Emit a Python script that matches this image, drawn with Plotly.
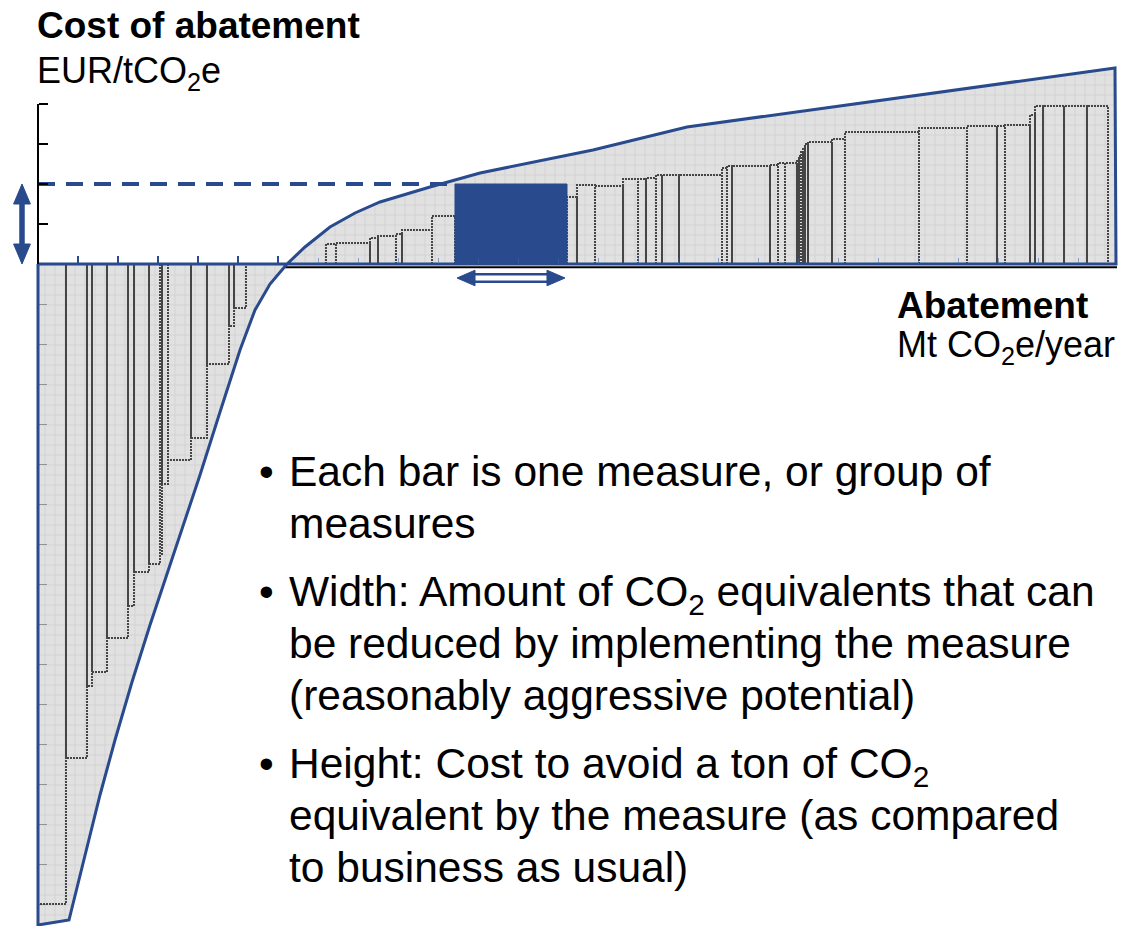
import plotly.graph_objects as go

BLUE = "#294b8d"
FONT = "Liberation Sans, Arial, Helvetica, sans-serif"

# Abatement measures, sorted by cost (width: Mt CO2e/year, height: EUR/tCO2e)
NEG_WIDTH = [7.0, 5.25, 1.25, 3.75, 5.25, 1.5, 3.75, 2.75, 0.5, 1.5, 5.75, 4.0, 5.5, 1.25, 3.0]
NEG_COST = [-320, -247, -211, -204, -187, -171, -154, -150, -145, -110, -98, -87, -50, -31, -22]
NEUTRAL_WIDTH = [20.0]
NEUTRAL_COST = [0]
POS_WIDTH = [2.5, 8.5, 2.0, 4.5, 1.5, 7.5, 5.75, 28.0, 2.5, 4.5, 7.0, 3.75, 2.0, 2.5,
             1.5, 4.25, 10.75, 1.25, 1.25, 9.5, 2.0, 1.75, 3.0, 0.5, 0.5, 0.5, 0.5,
             0.75, 6.0, 3.25, 18.5, 12.0, 7.5, 2.0, 6.25, 1.25, 2.0, 5.25, 5.75, 5.25]
POS_COST = [10, 10.5, 13, 14, 15, 17, 24, 40, 33.5, 39.5, 39, 42.5, 42.5, 43,
            44.5, 44.5, 44.5, 48, 49, 49, 49.5, 50.5, 50.5, 52, 54, 56, 58,
            60, 61, 62.5, 66, 68, 69, 69, 69.5, 74.5, 79, 79, 79, 79]
HIGHLIGHT_POS = 7  # example measure among the positive-cost bars

# Envelope of the cost curve (Mt CO2e/year, EUR/tCO2e)
ENVELOPE_X = [0, 0, 7.75, 11.75, 15.5, 19.25, 23.5, 28, 31.75, 35.5, 40.5, 45.5, 50.5,
              54.25, 58, 62.25, 66.75, 73, 79.25, 85.5, 98, 110.5, 125.5, 138.75,
              162.25, 269.25, 269.5, 0]
ENVELOPE_Y = [0, -330.5, -328, -295.5, -265.5, -238, -209, -180.5, -158, -135.5,
              -105.5, -74, -43, -23, -10, 0, 8.5, 18.5, 25.5, 31, 38.5, 45.5, 51.5,
              57, 68.5, 98, 0, 0]

X_TICKS = [10, 20, 30, 40, 50, 60]
X_MINOR = list(range(70, 270, 10))
Y_TICKS = [20, 40, 60, 80]
Y_MINOR = list(range(-20, -330, -20))

WIDTHS = NEG_WIDTH + NEUTRAL_WIDTH + POS_WIDTH
COSTS = NEG_COST + NEUTRAL_COST + POS_COST
HIGHLIGHT = len(NEG_WIDTH) + len(NEUTRAL_WIDTH) + HIGHLIGHT_POS

X_RANGE = [-9.5, 273.25]
Y_RANGE = [-331, 132]

fig = go.Figure()

# shaded area under the envelope
fig.add_trace(go.Scatter(
    x=ENVELOPE_X, y=ENVELOPE_Y, mode="lines", fill="toself",
    line=dict(width=0, color=BLUE),
    fillpattern=dict(shape="+", size=10, solidity=0.14,
                     fgcolor="#bdbdbd", bgcolor="#e1e1e1"),
    hoverinfo="skip"))

# dotted outline of each measure
bx, by = [], []
edges = []
left = 0.0
for i, (w, c) in enumerate(zip(WIDTHS, COSTS)):
    right = left + w
    edges.append((left, right))
    if i != HIGHLIGHT and c != 0:
        bx += [left, left, right, right, None]
        by += [0, c, c, 0, None]
    left = right

fig.add_trace(go.Scatter(
    x=bx, y=by, mode="lines",
    line=dict(color="#454545", width=2, dash="2px,1px"),
    hoverinfo="skip"))

# envelope outline
fig.add_trace(go.Scatter(
    x=ENVELOPE_X, y=ENVELOPE_Y, mode="lines",
    line=dict(color=BLUE, width=3), hoverinfo="skip"))

# highlighted measure
hx0, hx1 = edges[HIGHLIGHT]
hc = COSTS[HIGHLIGHT]
fig.add_trace(go.Scatter(
    x=[hx0, hx0, hx1, hx1, hx0], y=[0, hc, hc, 0, 0], mode="lines",
    fill="toself", fillcolor=BLUE, line=dict(color=BLUE, width=1),
    hoverinfo="skip"))

# dashed reference line at its cost level
fig.add_trace(go.Scatter(
    x=[0, hx0], y=[hc, hc], mode="lines",
    line=dict(color=BLUE, width=4, dash="17px,11px"), hoverinfo="skip"))

shapes = []
# y-axis line above zero and axis line below the zero line
shapes.append(dict(type="line", xref="x", yref="y", x0=0, x1=0, y0=0, y1=Y_TICKS[-1],
                   line=dict(color="black", width=2)))
shapes.append(dict(type="line", xref="x", yref="y", x0=0, x1=ENVELOPE_X[-3] + 0.5,
                   y0=-1.6, y1=-1.6, line=dict(color="black", width=2), layer="below"))

# vertical double arrow: cost of the highlighted measure
ax, hl, hw, sw = -4.0, 10.0, 2.1, 0.55
vpath = (f"M{ax-sw},{hl} L{ax-sw},{hc-hl} L{ax-hw},{hc-hl} L{ax},{hc} "
         f"L{ax+hw},{hc-hl} L{ax+sw},{hc-hl} L{ax+sw},{hl} L{ax+hw},{hl} "
         f"L{ax},{0} L{ax-hw},{hl} Z")
shapes.append(dict(type="path", xref="x", yref="y", path=vpath,
                   fillcolor=BLUE, line=dict(color=BLUE, width=1)))

# horizontal double arrow: abatement of the highlighted measure
ay, hl2, hh, sh = -7.0, 4.5, 3.9, 1.9
x0, x1 = hx0 + 0.5, hx1 - 0.5
shapes.append(dict(type="rect", xref="x", yref="y", x0=x0 + hl2 - 0.3, x1=x1 - hl2 + 0.3,
                   y0=ay - sh, y1=ay + sh, fillcolor="white",
                   line=dict(color=BLUE, width=2.5)))
for tip, base in ((x0, x0 + hl2), (x1, x1 - hl2)):
    shapes.append(dict(type="path", xref="x", yref="y",
                       path=f"M{tip},{ay} L{base},{ay+hh} L{base},{ay-hh} Z",
                       fillcolor=BLUE, line=dict(color=BLUE, width=1)))

W, H = 1131, 926


def px(x):
    return x / W


def py(y):
    return 1 - y / H


def label(text, x, baseline, size, bold=False):
    top = baseline - 0.905 * size - 1
    return dict(text=text, x=px(x), y=py(top), xref="paper", yref="paper",
                xanchor="left", yanchor="top", showarrow=False, align="left",
                font=dict(family=FONT, size=size, color="black",
                          weight="bold" if bold else "normal"))


annotations = [
    label("Cost of abatement", 35, 37, 37, bold=True),
    label("EUR/tCO<sub>2</sub>e", 35, 82, 36),
    label("Abatement", 895, 317, 37, bold=True),
    label("Mt CO<sub>2</sub>e/year", 895, 356, 36),
]

BULLETS = [
    ["Each bar is one measure, or group of", "measures"],
    ["Width: Amount of CO<sub>2</sub> equivalents that can",
     "be reduced by implementing the measure",
     "(reasonably aggressive potential)"],
    ["Height: Cost to avoid a ton of CO<sub>2</sub>",
     "equivalent by the measure (as compared",
     "to business as usual)"],
]
FIRST_BASELINES = [485, 605, 777]
LINE_STEP = 52
BULLET_SIZE = 42.5
for lines, base in zip(BULLETS, FIRST_BASELINES):
    annotations.append(label("\u2022", 257, base, 42))
    for k, line in enumerate(lines):
        annotations.append(label(line, 287, base + k * LINE_STEP, BULLET_SIZE))

fig.update_layout(
    width=W, height=H, margin=dict(l=0, r=0, t=0, b=0),
    paper_bgcolor="white", plot_bgcolor="white", showlegend=False,
    xaxis=dict(range=X_RANGE, showgrid=False, zeroline=False, showline=False,
               showticklabels=False, anchor="free", position=1 - 264 / H,
               ticks="inside", tickmode="array", tickvals=X_TICKS,
               ticklen=8, tickwidth=2, tickcolor=BLUE,
               minor=dict(ticks="inside", tickmode="array", tickvals=X_MINOR,
                          ticklen=6, tickwidth=1, tickcolor="rgba(70,100,170,0.55)")),
    yaxis=dict(range=Y_RANGE, showgrid=False, zeroline=False, showline=False,
               showticklabels=False, anchor="free", position=38 / W,
               ticks="inside", tickmode="array", tickvals=Y_TICKS,
               ticklen=9, tickwidth=2, tickcolor="black",
               minor=dict(ticks="inside", tickmode="array", tickvals=Y_MINOR,
                          ticklen=8, tickwidth=1, tickcolor="rgba(60,60,60,0.45)")),
    shapes=shapes, annotations=annotations,
)

fig.write_html("out.html")
